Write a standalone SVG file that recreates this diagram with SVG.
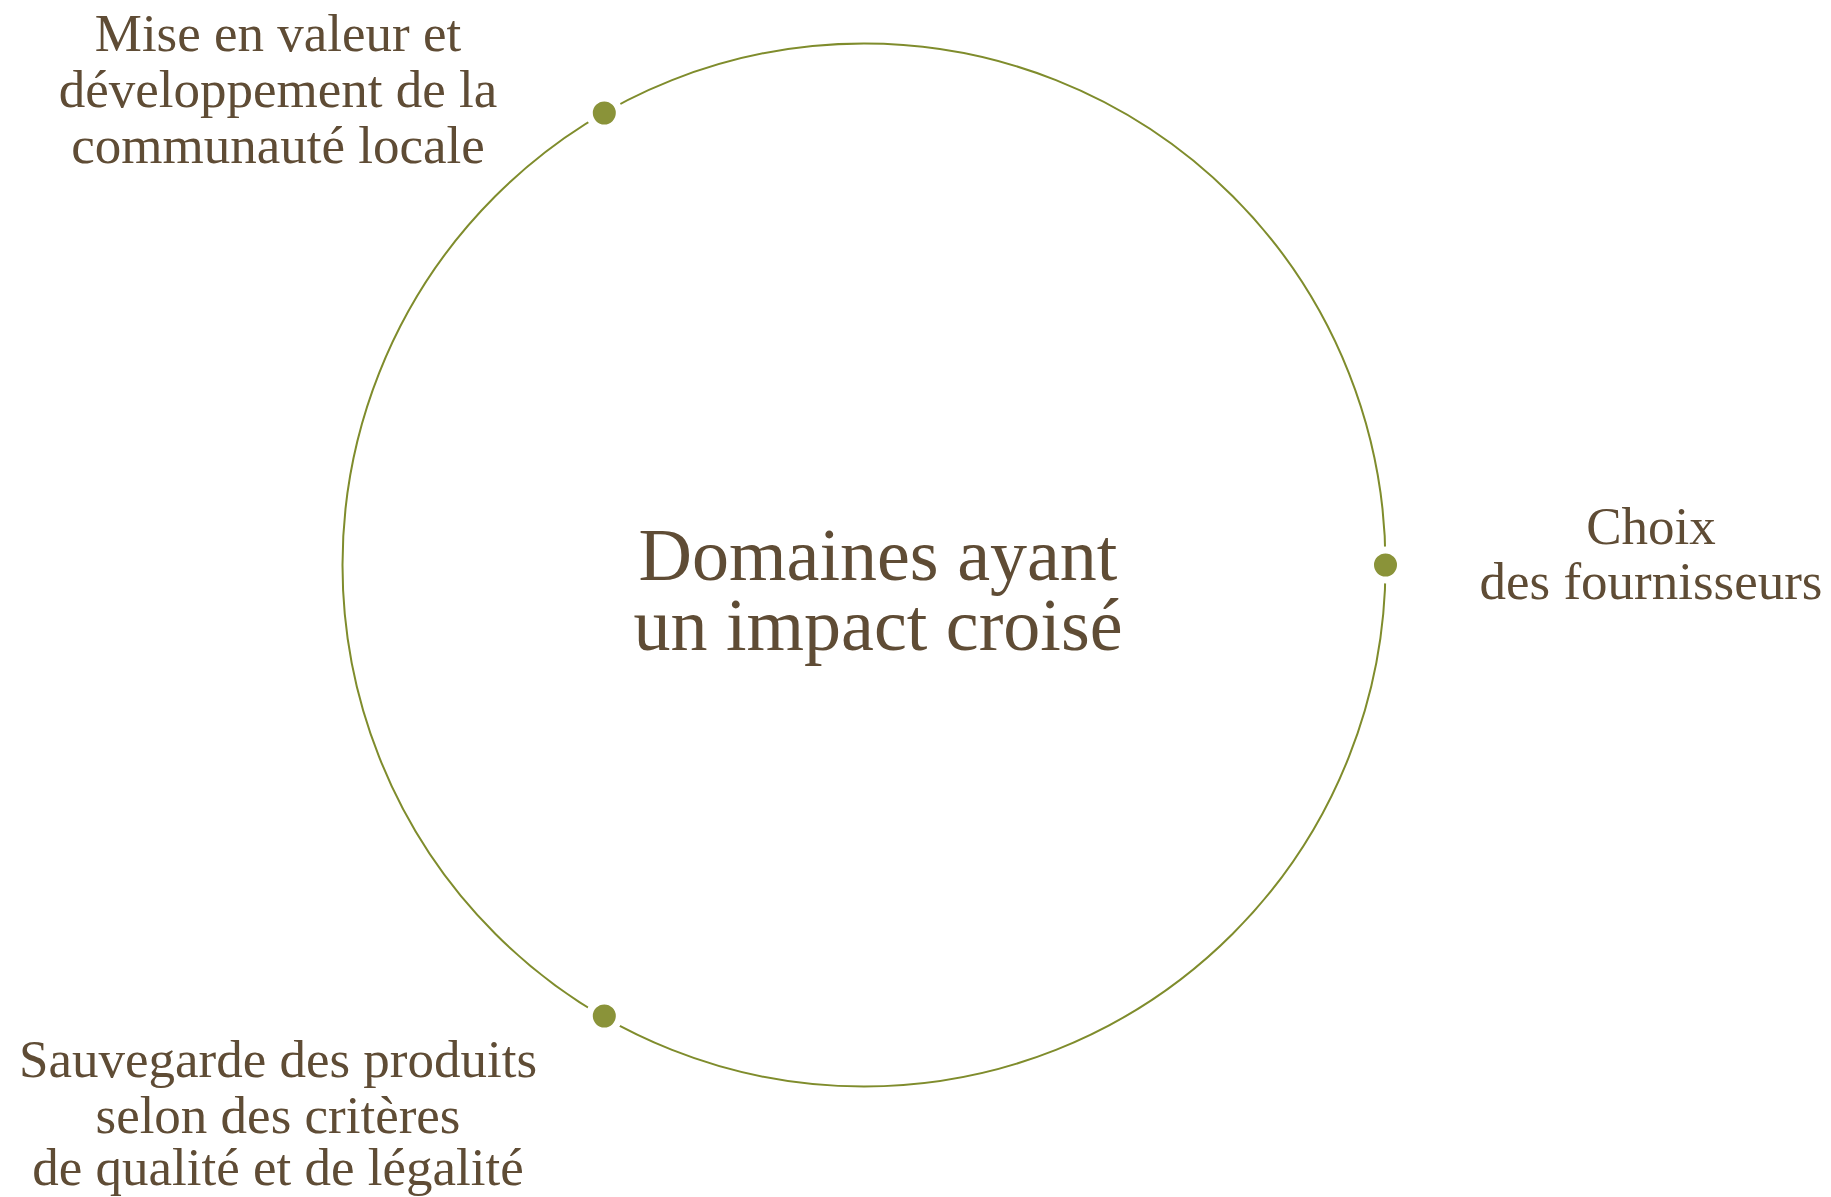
<svg xmlns="http://www.w3.org/2000/svg" width="1831" height="1197" viewBox="0 0 1831 1197">
<style>
.t{font-family:"Liberation Serif","DejaVu Serif",serif;fill:#5f4c35;text-anchor:middle}
.lbl{font-size:53px}
.ctr{font-size:74px}
.dot{fill:#8a9339;stroke:#ffffff;stroke-width:7}
.ring{fill:none;stroke:#7f8c2c;stroke-width:2}
</style>
<rect width="1831" height="1197" fill="#ffffff"/>
<g id="connectors">
<circle class="ring" cx="864" cy="565" r="521.5"/>
</g>
<g id="center">
<text class="t ctr" x="878" y="580">Domaines ayant</text>
<text class="t ctr" x="878" y="650">un impact croisé</text>
</g>
<g id="node-communaute">
<circle class="dot" cx="604.3" cy="113" r="15"/>
<text class="t lbl" x="278" y="51">Mise en valeur et</text>
<text class="t lbl" x="278" y="107">développement de la</text>
<text class="t lbl" x="278" y="163">communauté locale</text>
</g>
<g id="node-fournisseurs">
<circle class="dot" cx="1385.5" cy="565" r="15"/>
<text class="t lbl" x="1651" y="544">Choix</text>
<text class="t lbl" x="1651" y="599">des fournisseurs</text>
</g>
<g id="node-produits">
<circle class="dot" cx="604.3" cy="1016" r="15"/>
<text class="t lbl" x="278" y="1077">Sauvegarde des produits</text>
<text class="t lbl" x="278" y="1133">selon des critères</text>
<text class="t lbl" x="278" y="1185">de qualité et de légalité</text>
</g>
</svg>
